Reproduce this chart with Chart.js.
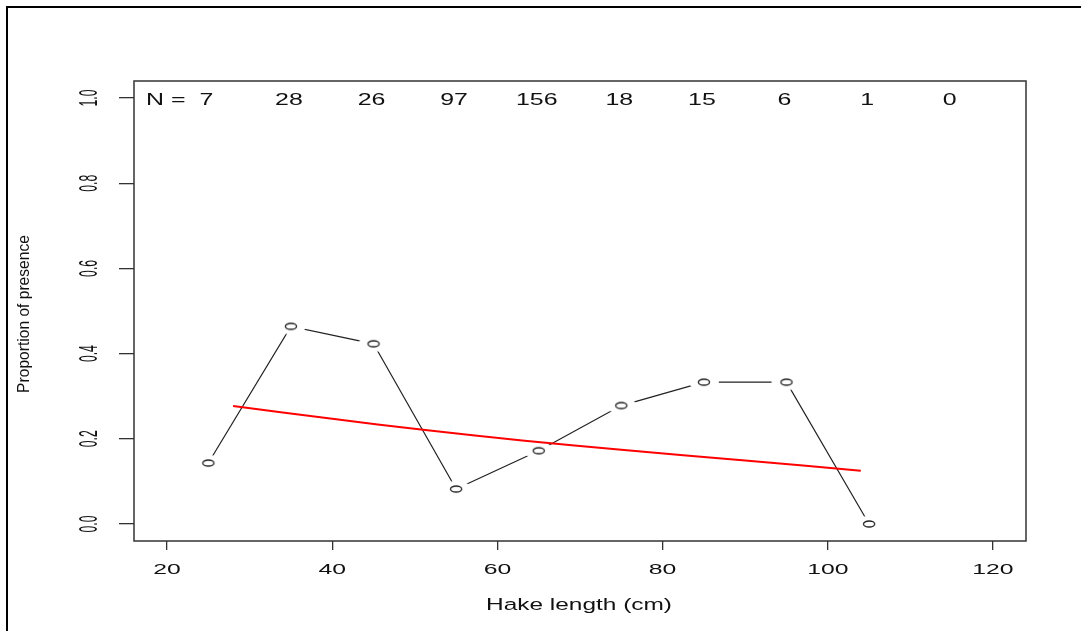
<!DOCTYPE html>
<html>
<head>
<meta charset="utf-8">
<script src="https://cdn.jsdelivr.net/npm/chart.js"></script>
<style>
  html, body { margin: 0; padding: 0; background: #fff; }
  #wrap { position: relative; width: 1081px; height: 631px; }
</style>
</head>
<body>
<div id="wrap"><canvas id="hakeChart" width="1081" height="631"></canvas></div>
<script>
  // observed proportions per 10 cm length class
  var lengthBins = [25, 35, 45, 55, 65, 75, 85, 95, 105, 115];
  var sampleN = [7, 28, 26, 97, 156, 18, 15, 6, 1, 0];
  var propPresence = [0.143, 0.464, 0.423, 0.082, 0.172, 0.278, 0.333, 0.333, 0.0, null];

  // fitted curve (red)
  var fitLength = [28, 40, 51, 63, 75, 90, 104];
  var fitProp = [0.277, 0.247, 0.221, 0.196, 0.174, 0.149, 0.125];

  var xTicks = [20, 40, 60, 80, 100, 120];
  var yTicks = [0.0, 0.2, 0.4, 0.6, 0.8, 1.0];

  var FONT = '"Liberation Sans", Arial, sans-serif';

  // open circle marker, stretched like the original, with a white halo so the line stops short
  function makeMarker() {
    var c = document.createElement('canvas');
    c.width = 34; c.height = 18;
    var g = c.getContext('2d');
    g.fillStyle = '#fff';
    g.beginPath(); g.ellipse(17, 9, 15, 8, 0, 0, Math.PI * 2); g.fill();
    g.strokeStyle = '#222';
    g.lineWidth = 1.3;
    g.beginPath(); g.ellipse(17, 9, 5.6, 3, 0, 0, Math.PI * 2); g.stroke();
    return c;
  }

  function stretchText(ctx, txt, x, y, size, sx, rotate, align) {
    ctx.save();
    ctx.translate(x, y);
    ctx.scale(sx, 1);
    if (rotate) ctx.rotate(-Math.PI / 2);
    ctx.font = size + 'px ' + FONT;
    ctx.fillStyle = '#111';
    ctx.textAlign = align || 'center';
    ctx.textBaseline = 'alphabetic';
    ctx.fillText(txt, 0, 0);
    ctx.restore();
  }

  var rDecor = {
    id: 'rDecor',
    afterDraw: function(chart) {
      var ctx = chart.ctx;
      var a = chart.chartArea;
      var xs = chart.scales.x, ys = chart.scales.y;

      // outer frame (left + top)
      ctx.save();
      ctx.strokeStyle = '#000';
      ctx.lineWidth = 2;
      ctx.beginPath();
      ctx.moveTo(7, 631); ctx.lineTo(7, 7); ctx.lineTo(1081, 7);
      ctx.stroke();

      // plot box
      ctx.strokeStyle = '#333';
      ctx.lineWidth = 1.5;
      ctx.strokeRect(a.left, a.top, a.right - a.left, a.bottom - a.top);
      ctx.restore();

      // tick labels
      xTicks.forEach(function(v) {
        stretchText(ctx, String(v), xs.getPixelForValue(v), 573.5, 15, 1.65, false);
      });
      yTicks.forEach(function(v) {
        stretchText(ctx, v.toFixed(1), 96.5, ys.getPixelForValue(v), 12.2, 2.17, true);
      });

      // axis titles
      stretchText(ctx, 'Hake length (cm)', (a.left + a.right) / 2 - 1, 610, 16.3, 1.5, false);
      stretchText(ctx, 'Proportion of presence', 28.5, 314, 15.6, 1.0, true);

      // sample sizes along the top
      var yN = ys.getPixelForValue(1.0) + 6.5;
      lengthBins.forEach(function(v, i) {
        var px = xs.getPixelForValue(v) - 2;
        stretchText(ctx, String(sampleN[i]), px, yN, 16.3, 1.53, false);
        if (i === 0) {
          ctx.save();
          ctx.font = '16.3px ' + FONT;
          var w = ctx.measureText(String(sampleN[i])).width * 1.53;
          ctx.restore();
          stretchText(ctx, 'N =  ', px - w / 2, yN, 16.3, 1.53, false, 'right');
        }
      });
    }
  };

  var ctx = document.getElementById('hakeChart').getContext('2d');
  var hakeChart = new Chart(ctx, {
    type: 'line',
    data: {
      datasets: [{
        label: 'fit',
        data: fitLength.map(function(x, i) { return { x: x, y: fitProp[i] }; }),
        borderColor: '#ff0000',
        borderWidth: 2,
        pointRadius: 0,
        tension: 0.4,
        order: 0
      }, {
        label: 'observed',
        data: lengthBins.map(function(x, i) { return { x: x, y: propPresence[i] }; }),
        borderColor: '#222',
        borderWidth: 1.2,
        pointStyle: makeMarker(),
        pointRadius: 5,
        tension: 0,
        spanGaps: false,
        order: 1
      }]
    },
    options: {
      responsive: false,
      animation: false,
      events: [],
      layout: { padding: { left: 119, right: 55, top: 81, bottom: 81 } },
      plugins: { legend: { display: false }, tooltip: { enabled: false } },
      scales: {
        x: {
          type: 'linear',
          min: 16,
          max: 124,
          afterBuildTicks: function(scale) {
            scale.ticks = xTicks.map(function(v) { return { value: v }; });
          },
          ticks: { display: false },
          grid: { drawOnChartArea: false, drawTicks: true, tickLength: 9, color: '#333', lineWidth: 1.3 },
          border: { display: false }
        },
        y: {
          type: 'linear',
          min: -0.04,
          max: 1.04,
          afterBuildTicks: function(scale) {
            scale.ticks = yTicks.map(function(v) { return { value: v }; });
          },
          ticks: { display: false },
          grid: { drawOnChartArea: false, drawTicks: true, tickLength: 15, color: '#333', lineWidth: 1.3 },
          border: { display: false }
        }
      }
    },
    plugins: [rDecor]
  });
</script>
</body>
</html>
